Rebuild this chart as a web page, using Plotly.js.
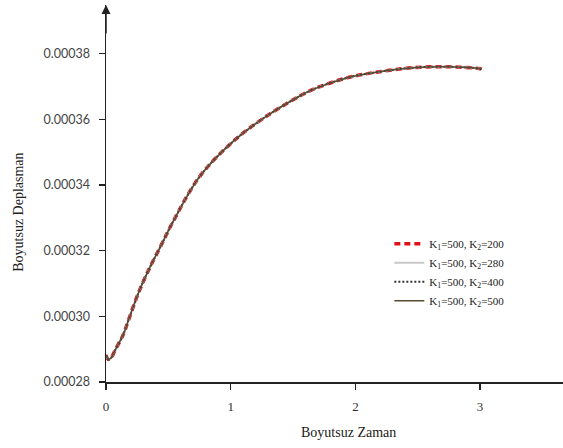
<!DOCTYPE html>
<html>
<head>
<meta charset="utf-8">
<script src="https://cdn.plot.ly/plotly-3.0.1.min.js"></script>
<style>html,body{margin:0;padding:0;background:#fff;}#chart{width:563px;height:448px;}</style>
</head>
<body>
<div id="chart"></div>
<script>
// Dimensionless time (Boyutsuz Zaman)
const time = [0, 0.018, 0.04, 0.072, 0.139, 0.179, 0.259, 0.339, 0.447, 0.54, 0.754, 1.018, 1.289, 1.555, 1.66, 1.93, 2.197, 2.462, 2.732, 3.0, 3.013];
// Dimensionless displacement (Boyutsuz Deplasman), one per K2 case (curves overlap)
const dispK200 = [0.0002882, 0.0002869, 0.0002873, 0.0002896, 0.0002945, 0.0002987, 0.000307, 0.0003139, 0.000322, 0.000329, 0.0003427, 0.0003532, 0.000361, 0.0003671, 0.0003691, 0.0003726, 0.0003745, 0.0003757, 0.000376, 0.0003754, 0.0003752];
const dispK280 = [0.0002882, 0.0002869, 0.0002873, 0.0002896, 0.0002945, 0.0002987, 0.000307, 0.0003139, 0.000322, 0.000329, 0.0003427, 0.0003532, 0.000361, 0.0003671, 0.0003691, 0.0003726, 0.0003745, 0.0003757, 0.000376, 0.0003754, 0.0003752];
const dispK400 = [0.0002882, 0.0002869, 0.0002873, 0.0002896, 0.0002945, 0.0002987, 0.000307, 0.0003139, 0.000322, 0.000329, 0.0003427, 0.0003532, 0.000361, 0.0003671, 0.0003691, 0.0003726, 0.0003745, 0.0003757, 0.000376, 0.0003754, 0.0003752];
const dispK500 = [0.0002882, 0.0002869, 0.0002873, 0.0002896, 0.0002945, 0.0002987, 0.000307, 0.0003139, 0.000322, 0.000329, 0.0003427, 0.0003532, 0.000361, 0.0003671, 0.0003691, 0.0003726, 0.0003745, 0.0003757, 0.000376, 0.0003754, 0.0003752];
const seriesNames = ["K<sub>1</sub>=500, K<sub>2</sub>=200", "K<sub>1</sub>=500, K<sub>2</sub>=280", "K<sub>1</sub>=500, K<sub>2</sub>=400", "K<sub>1</sub>=500, K<sub>2</sub>=500"];
const yTickVals = [0.00028, 0.00030, 0.00032, 0.00034, 0.00036, 0.00038];
const yTickText = ["0.00028", "0.00030", "0.00032", "0.00034", "0.00036", "0.00038"];
const xTickVals = [0, 1, 2, 3];
const xTickText = ["0", "1", "2", "3"];

const traces = [
  {x: time, y: dispK200, name: seriesNames[0], mode: 'lines', line: {color: '#e0101a', width: 3.5, dash: '6px,4px', shape: 'spline', smoothing: 1}},
  {x: time, y: dispK280, name: seriesNames[1], mode: 'lines', line: {color: '#c8c8c8', width: 2, shape: 'spline', smoothing: 1}},
  {x: time, y: dispK400, name: seriesNames[2], mode: 'lines', line: {color: '#333333', width: 2, dash: '2px,2px', shape: 'spline', smoothing: 1}},
  {x: time, y: dispK500, name: seriesNames[3], mode: 'lines', line: {color: '#5a4a30', width: 1.5, shape: 'spline', smoothing: 1}}
];

const layout = {
  width: 563, height: 448,
  margin: {l: 106, r: 0, t: 5, b: 66},
  paper_bgcolor: '#fff', plot_bgcolor: '#fff',
  showlegend: true,
  legend: {x: 0.62, y: 0.405, xanchor: 'left', yanchor: 'top', bgcolor: 'rgba(0,0,0,0)',
    font: {family: 'Liberation Serif', size: 11, color: '#222'}, itemwidth: 30, tracegroupgap: 0},
  xaxis: {range: [0, 3.665], showgrid: false, zeroline: false, showline: true, linecolor: '#222', linewidth: 1.5,
    ticks: 'outside', ticklen: 6, tickcolor: '#222', tickwidth: 1.5,
    tickvals: xTickVals, ticktext: xTickText, ticklabelstandoff: 6,
    tickfont: {family: 'Liberation Serif', size: 13, color: '#333'}},
  yaxis: {range: [0.00028, 0.0003948], showgrid: false, zeroline: false, showline: true, linecolor: '#222', linewidth: 1.5,
    ticks: 'outside', ticklen: 6, tickcolor: '#222', tickwidth: 1.5,
    tickvals: yTickVals, ticktext: yTickText, ticklabelstandoff: 6,
    tickfont: {family: 'Lato', size: 12.5, color: '#444'}},
  annotations: [
    {xref: 'paper', yref: 'paper', x: 0, y: 1, ax: 0, ay: 30, axref: 'pixel', ayref: 'pixel', text: '', showarrow: true,
      arrowhead: 2, arrowsize: 1.2, arrowwidth: 1.5, arrowcolor: '#222'},
    {xref: 'paper', yref: 'paper', x: (348 - 106) / 457, y: -0.135, xanchor: 'center', yanchor: 'middle', showarrow: false,
      text: 'Boyutsuz Zaman', font: {family: 'Liberation Serif', size: 14, color: '#222'}},
    {xref: 'paper', yref: 'paper', x: -0.193, y: (382 - 212) / 377, xanchor: 'center', yanchor: 'middle', showarrow: false,
      textangle: -90, text: 'Boyutsuz Deplasman', font: {family: 'Liberation Serif', size: 14, color: '#222'}}
  ]
};

Plotly.newPlot('chart', traces, layout, {displayModeBar: false, staticPlot: true});
</script>
</body>
</html>
